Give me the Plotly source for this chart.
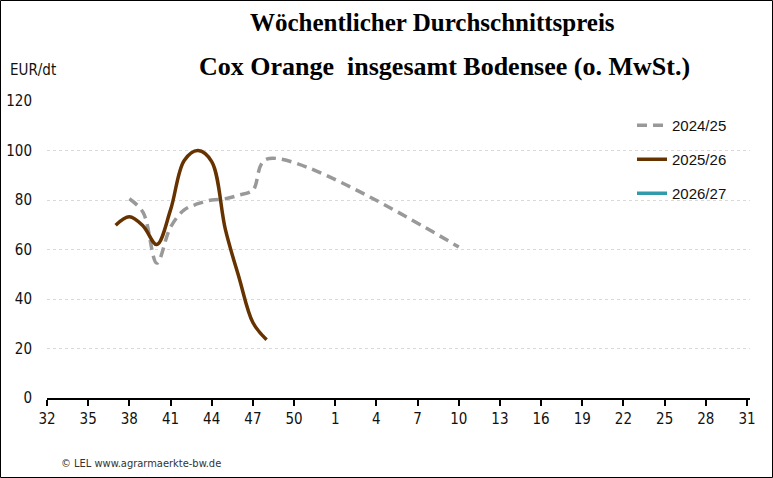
import plotly.graph_objects as go

# Kalenderwochen Juli bis Juli
weeks = list(range(32, 53)) + list(range(1, 32))
tick_weeks = weeks[::3]

# 2024/25 (gestrichelt grau)
weeks_2425 = [38, 39, 40, 41, 42, 43, 44, 45, 46, 47, 48, 10]
price_2425 = [80.5, 75, 54.5, 69, 76, 78.5, 80, 80.5, 82, 84, 96.5, 61]

# 2025/26 (braun)
weeks_2526 = [37, 38, 39, 40, 41, 42, 43, 44, 45, 46, 47, 48]
price_2526 = [69.8, 73.2, 69.5, 62, 76, 96, 100, 95.5, 68, 48.5, 30.5, 23.5]

# 2026/27 (noch keine Daten)
weeks_2627 = []
price_2627 = []

series = [
    ("2024/25", weeks_2425, price_2425, "#999999", "10px,6px"),
    ("2025/26", weeks_2526, price_2526, "#663300", "solid"),
    ("2026/27", weeks_2627, price_2627, "#319bae", "solid"),
]

W, H = 773, 478
left, right, top, bottom = 47, 23, 101, 80
pw, ph = W - left - right, H - top - bottom
narrow = "Liberation Sans Narrow, DejaVu Sans Condensed, Liberation Sans"

fig = go.Figure()
for i, (name, wk, vals, col, dash) in enumerate(series):
    xs = [weeks.index(w) for w in wk]
    fig.add_trace(go.Scatter(
        x=xs if xs else [None], y=vals if vals else [None],
        mode="lines", name=name, legendgroup=str(i),
        line=dict(color=col, width=3.5, dash=dash, shape="spline", smoothing=1.0),
        connectgaps=True,
    ))

fig.update_layout(
    width=W, height=H,
    margin=dict(l=left, r=right, t=top, b=bottom, autoexpand=False),
    paper_bgcolor="white", plot_bgcolor="white",
    font=dict(family="Liberation Sans", size=15, color="#111111"),
    showlegend=True,
    legend=dict(x=(632 - left) / pw, y=1 - (109 - top) / ph, xanchor="left", yanchor="top",
                font=dict(family="Liberation Sans", size=15, color="#111111"),
                tracegroupgap=11.5, bgcolor="rgba(0,0,0,0)"),
)

fig.update_xaxes(
    range=[0, 51.22], tickmode="array", automargin=False,
    tickvals=[weeks.index(w) for w in tick_weeks],
    ticktext=[str(w) for w in tick_weeks],
    showline=True, linecolor="black", linewidth=2,
    ticks="outside", ticklen=6, tickwidth=2, tickcolor="black",
    showgrid=False, zeroline=False,
    tickfont=dict(family=narrow, size=15),
)
fig.update_yaxes(
    range=[0, 120], tickvals=[0, 20, 40, 60, 80, 100, 120], automargin=False,
    showgrid=True, gridcolor="#d9d9d9", gridwidth=1, griddash="dot",
    zeroline=False, showline=False, ticks="", ticklabelstandoff=14,
    tickfont=dict(family=narrow, size=15),
)

title_font = dict(family="Liberation Serif", size=25, color="black")
fig.add_annotation(text="<b>Wöchentlicher Durchschnittspreis</b>", xref="paper", yref="paper",
                   x=(432 - left) / pw, y=1 + (top - 22) / ph, showarrow=False,
                   xanchor="center", yanchor="middle", font=title_font)
fig.add_annotation(text="<b>Cox Orange&nbsp; insgesamt Bodensee (o. MwSt.)</b>", xref="paper", yref="paper",
                   x=(444 - left) / pw, y=1 + (top - 66) / ph, showarrow=False,
                   xanchor="center", yanchor="middle", font=dict(title_font, size=26))
fig.add_annotation(text="EUR/dt", xref="paper", yref="paper",
                   x=(8 - left) / pw, y=1 + (top - 70) / ph, showarrow=False,
                   xanchor="left", yanchor="middle",
                   font=dict(family=narrow, size=15, color="#111111"))
fig.add_annotation(text="© LEL www.agrarmaerkte-bw.de", xref="paper", yref="paper",
                   x=(59 - left) / pw, y=-(463 - top - ph) / ph, showarrow=False,
                   xanchor="left", yanchor="middle",
                   font=dict(family=narrow, size=11, color="#333333"))

# Rahmen um die ganze Grafik
fig.add_shape(type="rect", xref="paper", yref="paper",
              x0=(0.5 - left) / pw, x1=(W - 0.5 - left) / pw,
              y0=-(bottom - 0.5) / ph, y1=1 + (top - 0.5) / ph,
              line=dict(color="black", width=1), layer="above")

fig.write_html("out.html", config={"displayModeBar": False},
               post_script="document.body.style.margin='0';")
